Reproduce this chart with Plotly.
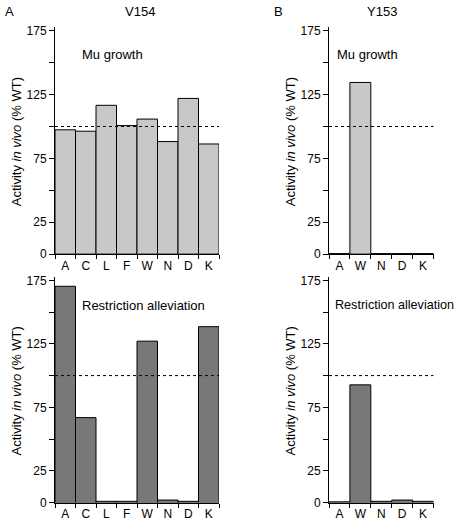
import plotly.graph_objects as go

cats_v154 = ["A", "C", "L", "F", "W", "N", "D", "K"]
mu_v154 = [97.4, 96.3, 116.6, 100.7, 105.8, 88.2, 122.0, 86.3]
ra_v154 = [170.3, 66.9, 1.0, 1.0, 127.1, 2.0, 1.0, 138.5]

cats_y153 = ["A", "W", "N", "D", "K"]
mu_y153 = [0.4, 134.5, 0.4, 0.4, 0.4]
ra_y153 = [0.6, 92.7, 1.0, 2.0, 1.0]

ytick_vals = [0, 25, 50, 75, 100, 125, 150, 175]
ytick_text = ["0", "25", "", "75", "", "125", "", "175"]
wt_level = 100

W, H = 458, 525
light = "#c8c8c8"
dark = "#787878"
FONT = "Liberation Sans, Arial, sans-serif"

fig = go.Figure()

panels = [
    (cats_v154, mu_v154, light, (55, 219), 256.0, 28.3),
    (cats_y153, mu_y153, light, (329, 433.5), 256.0, 28.3),
    (cats_v154, ra_v154, dark, (55, 219), 509.3, 282.7),
    (cats_y153, ra_y153, dark, (329, 433.5), 509.3, 282.7),
]

ymax = 178
for i, (cats, vals, col, xd, y0, y175) in enumerate(panels):
    xs = "" if i == 0 else str(i + 1)
    fig.add_trace(go.Bar(x=cats, y=vals, xaxis="x" + xs, yaxis="y" + xs,
                         marker=dict(color=col, line=dict(color="black", width=1)),
                         width=1.0, showlegend=False, hoverinfo="skip"))
    ppu = (y0 - y175) / 175.0
    ytop = y0 - ymax * ppu
    fig.layout["xaxis" + xs] = dict(
        domain=[xd[0] / W, xd[1] / W], anchor="y" + xs,
        type="category", range=[-0.5, len(cats) - 0.5],
        showline=True, linecolor="black", linewidth=1,
        ticks="outside", tickson="boundaries", ticklen=4, tickcolor="black",
        tickangle=0,
        tickfont=dict(family=FONT, size=12, color="black"),
        showgrid=False, zeroline=False, fixedrange=True)
    fig.layout["yaxis" + xs] = dict(
        domain=[1 - y0 / H, 1 - ytop / H], anchor="x" + xs,
        range=[0, ymax], showline=True, linecolor="black", linewidth=1,
        tickmode="array", tickvals=ytick_vals, ticktext=ytick_text,
        ticks="outside", ticklen=5, tickcolor="black",
        tickfont=dict(family=FONT, size=12, color="black"),
        showgrid=False, zeroline=False, fixedrange=True)
    fig.add_shape(type="line", xref="x" + xs + " domain", yref="y" + xs,
                  x0=0, x1=1, y0=wt_level, y1=wt_level,
                  line=dict(color="black", width=1, dash="3px,3px"))

def ann(text, xpx, ypx, size=13, xanchor="center", angle=0):
    fig.add_annotation(text=text, x=xpx / W, y=1 - ypx / H, xref="paper", yref="paper",
                       showarrow=False, xanchor=xanchor, yanchor="middle",
                       textangle=angle, font=dict(family=FONT, size=size, color="black"))

ann("A", 3, 9, xanchor="left")
ann("B", 272, 9, xanchor="left")
ann("V154", 140, 9)
ann("Y153", 382, 9)
ann("Mu growth", 80, 53, xanchor="left")
ann("Mu growth", 335, 53, xanchor="left")
ann("Restriction alleviation", 80, 308, xanchor="left")
ann("Restriction alleviation", 333, 308, size=12.6, xanchor="left")
ytitle = "Activity <i>in vivo</i> (% WT)"
ann(ytitle, 16, 142, angle=-90)
ann(ytitle, 290, 142, angle=-90)
ann(ytitle, 16, 396, angle=-90)
ann(ytitle, 290, 396, angle=-90)

fig.update_layout(width=W, height=H, margin=dict(l=0, r=0, t=0, b=0),
                  paper_bgcolor="white", plot_bgcolor="white", bargap=0,
                  hovermode=False)
fig.write_html("out.html", config={"displayModeBar": False, "staticPlot": True},
               post_script="document.body.style.margin='0px';document.body.style.overflow='hidden';")
